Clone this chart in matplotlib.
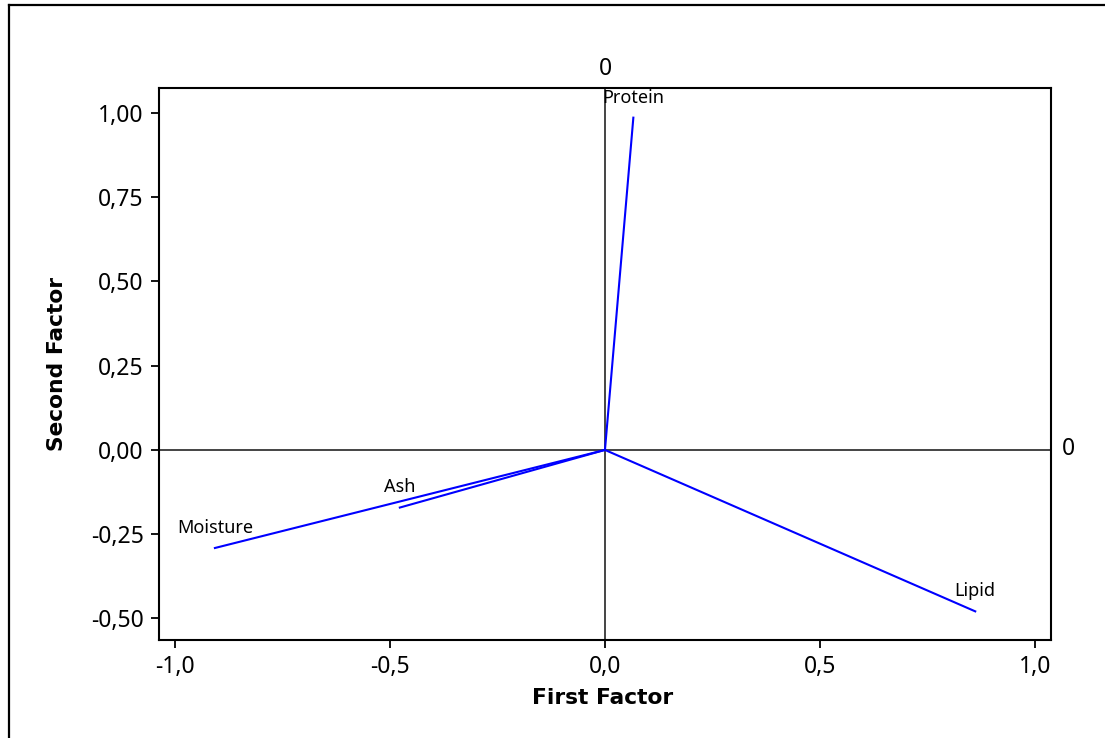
import matplotlib
matplotlib.use("Agg")
import matplotlib.pyplot as plt
from matplotlib.lines import Line2D

# Factor loadings (first factor, second factor)
variables = ["Moisture", "Protein", "Lipid", "Ash"]
first_factor = [-0.907, 0.066, 0.861, -0.477]
second_factor = [-0.291, 0.986, -0.479, -0.171]

x_ticks = [-1.0, -0.5, 0.0, 0.5, 1.0]
x_tick_labels = ["-1,0", "-0,5", "0,0", "0,5", "1,0"]
y_ticks = [-0.50, -0.25, 0.00, 0.25, 0.50, 0.75, 1.00]
y_tick_labels = ["-0,50", "-0,25", "0,00", "0,25", "0,50", "0,75", "1,00"]

plt.rcParams["font.family"] = ["Noto Sans", "DejaVu Sans"]

W, H = 1105, 738
fig = plt.figure(figsize=(W / 100, H / 100), dpi=100)
ax = fig.add_axes([159 / W, 1 - 640 / H, (1050.5 - 159) / W, (640 - 88) / H])

# Outer frame edges around the graph region
fig.add_artist(Line2D([9 / W, 9 / W], [0, 1 - 5 / H], transform=fig.transFigure,
                      color="black", linewidth=1.6))
fig.add_artist(Line2D([9 / W, 1], [1 - 5 / H, 1 - 5 / H], transform=fig.transFigure,
                      color="black", linewidth=1.6))

# Reference lines through the origin
ax.axhline(0, color="#444444", linewidth=1.4, zorder=1)
ax.axvline(0, color="#444444", linewidth=1.4, zorder=1)

for name, fx, fy in zip(variables, first_factor, second_factor):
    ax.plot([0, fx], [0, fy], color="#0000ff", linewidth=1.5, zorder=2)
    ax.annotate(name, (fx, fy), xytext=(0, 14.5), textcoords="offset points",
                ha="center", va="center", fontsize=13)

ax.set_xlim(-1.037, 1.036)
ax.set_ylim(-0.564, 1.074)
ax.set_xticks(x_ticks)
ax.set_xticklabels(x_tick_labels)
ax.set_yticks(y_ticks)
ax.set_yticklabels(y_tick_labels)
ax.tick_params(direction="out", length=6, width=1.3, labelsize=16.5, pad=5,
               color="black")
for sp in ax.spines.values():
    sp.set_linewidth(1.5)

fig.text(603 / W, 1 - 698 / H, "First Factor", fontsize=15.7, fontweight="bold",
         family="DejaVu Sans", ha="center", va="center")
fig.text(57 / W, 1 - 364 / H, "Second Factor", fontsize=15.7, fontweight="bold",
         family="DejaVu Sans", ha="center", va="center", rotation=90)

# Zero markers for the reference lines
ax.annotate("0", (0, 1.0), xycoords=("data", "axes fraction"),
            xytext=(0, 5), textcoords="offset points", ha="center",
            va="bottom", fontsize=16.5)
ax.annotate("0", (1.0, 0), xycoords=("axes fraction", "data"),
            xytext=(8, 1), textcoords="offset points", ha="left",
            va="center", fontsize=16.5)

fig.savefig("out.png", dpi=100)
